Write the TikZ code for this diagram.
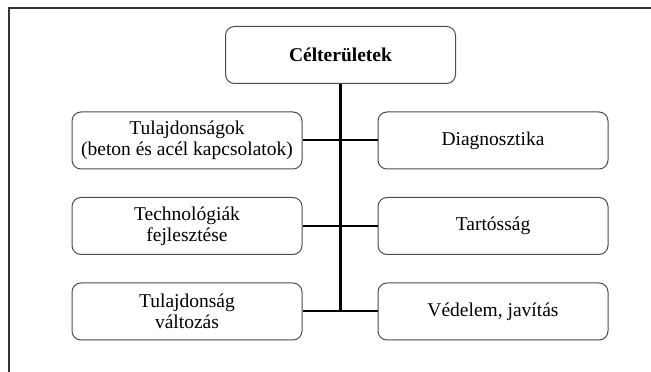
\documentclass[tikz,border=0pt]{standalone}
\usepackage{fontspec}
\setmainfont{Liberation Serif}
\usepackage{xcolor}
\usepackage{tikz}

\begin{document}
\begin{tikzpicture}[x=1pt, y=1pt, node distance=85.5pt, semithick,
  area/.style={draw=black!70, line width=1pt, rounded corners=9pt, fill=white,
    minimum width=230pt, minimum height=57pt, align=center, inner sep=2pt,
    font=\fontsize{19.5}{21}\selectfont},
  trunk/.style={line width=3.5pt, black},
  branch/.style={line width=2pt, black}]
\useasboundingbox (0,0) rectangle (651,372);
\draw[line width=1.5pt, black!80] (9,-5) -- (9,364) -- (660,364);

\node[area] (top) at (340.5,317) {\textbf{Célterületek}};
\node[area] (p1) [below of=top, xshift=-153.5pt] {Tulajdonságok\\(beton és acél kapcsolatok)};
\node[area] (p2) [below of=p1] {Technológiák\\fejlesztése};
\node[area] (p3) [below of=p2] {Tulajdonság\\változás};
\node[area] (d1) [below of=top, xshift=152.5pt] {Diagnosztika};
\node[area] (d2) [below of=d1] {Tartósság};
\node[area] (d3) [below of=d2] {Védelem, javítás};
\coordinate (j3) at (top |- p3);

% tree lines
\draw[trunk] (top.south) -- (j3);
\path[branch]
(p1.east) edge (d1.west)
(p2.east) edge (d2.west)
(p3.east) edge (d3.west);
\end{tikzpicture}
\end{document}
